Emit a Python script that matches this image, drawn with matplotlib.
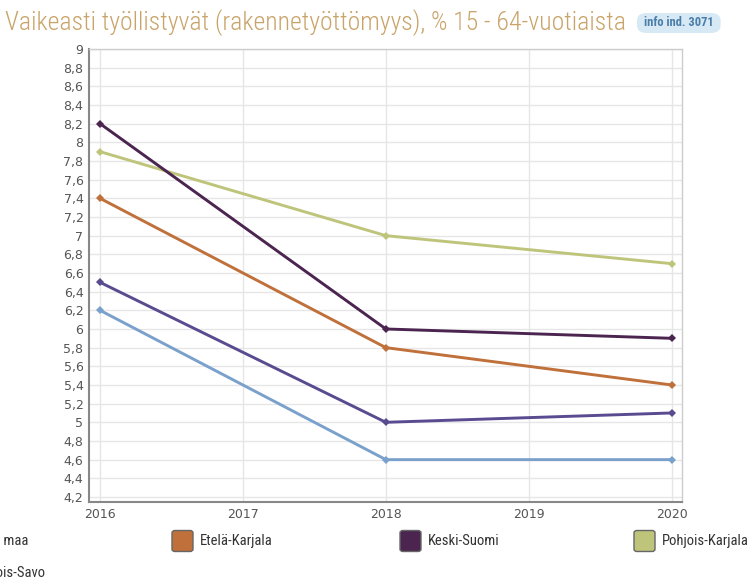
import matplotlib
matplotlib.use("Agg")
import matplotlib.pyplot as plt
from matplotlib.patches import FancyBboxPatch
from matplotlib import font_manager

years = [2016, 2018, 2020]
series_names = ["Koko maa", "Etelä-Karjala", "Keski-Suomi", "Pohjois-Karjala", "Pohjois-Savo"]
koko_maa = [6.2, 4.6, 4.6]
etela_karjala = [7.4, 5.8, 5.4]
keski_suomi = [8.2, 6.0, 5.9]
pohjois_karjala = [7.9, 7.0, 6.7]
pohjois_savo = [6.5, 5.0, 5.1]
colors = ["#7aa0cc", "#c0703a", "#4b2550", "#bec57b", "#5a4a90"]
x_ticks = [2016, 2017, 2018, 2019, 2020]
y_ticks = [4.2 + 0.2 * i for i in range(25)]
title = "Vaikeasti työllistyvät (rakennetyöttömyys), % 15 - 64-vuotiaista"
badge = "info ind. 3071"

values = [koko_maa, etela_karjala, keski_suomi, pohjois_karjala, pohjois_savo]

avail = {f.name for f in font_manager.fontManager.ttflist}
narrow = "Lato"
for cand in ["Liberation Sans Narrow", "Roboto Condensed", "Open Sans Condensed",
             "Noto Sans Condensed", "DejaVu Sans Condensed", "Lato"]:
    if cand in avail:
        narrow = cand
        break

W, H = 755, 580
fig = plt.figure(figsize=(W / 100, H / 100), dpi=100)
ax = fig.add_axes([89 / W, 1 - 502 / H, (682 - 89) / W, (502 - 49) / H])

order = [0, 4, 1, 3, 2]
for i in order:
    ax.plot(years, values[i], color=colors[i], lw=2.1, marker="D", ms=4,
            markeredgewidth=0, solid_joinstyle="round", zorder=3)

ax.set_xlim(2015.923, 2020.072)
ax.set_ylim(4.146, 9.0)
ax.set_xticks(x_ticks)
ax.set_xticklabels([str(t) for t in x_ticks])
ax.set_yticks(y_ticks)
ax.set_yticklabels([("%.1f" % v).rstrip("0").rstrip(".").replace(".", ",") for v in y_ticks])
ax.grid(True, color="#e6e6e6", lw=1)
ax.set_axisbelow(True)
ax.tick_params(length=0, labelsize=9, colors="#555555", pad=4)
for s in ["left", "bottom"]:
    ax.spines[s].set_color("#888888")
    ax.spines[s].set_linewidth(1.5)
for s in ["top", "right"]:
    ax.spines[s].set_color("#cccccc")
    ax.spines[s].set_linewidth(1)

# title
t = fig.text(5 / W, 1 - 23 / H, title, fontsize=15, color="#c9a46a", fontweight="light",
             family=[narrow, "DejaVu Sans"], va="center", ha="left")
fig.canvas.draw()
r = fig.canvas.get_renderer()
bb = t.get_window_extent(r)
t.set_fontsize(15 * 623 / bb.width)

# badge
bx = 637
b = fig.text((bx + 7) / W, 1 - 23 / H, badge, fontsize=9, color="#4a7ea8", fontweight="bold",
             family=[narrow, "DejaVu Sans"], va="center", ha="left")
fig.canvas.draw()
bbb = b.get_window_extent(r)
bw = bbb.width + 14
fig.patches.append(FancyBboxPatch((bx / W, 1 - 33 / H), bw / W, 20 / H,
                                  boxstyle="round,pad=0,rounding_size=0.013",
                                  transform=fig.transFigure, facecolor="#d6e9f5",
                                  edgecolor="none", zorder=0))

# legend
leg_pos = [(-57, 541), (172, 541), (400, 541), (634, 541), (-57, 573)]
for i, name in enumerate(series_names):
    x0, yc = leg_pos[i]
    sq = 21
    fig.patches.append(FancyBboxPatch((x0 / W, 1 - (yc + sq / 2) / H), sq / W, sq / H,
                                      boxstyle="round,pad=0,rounding_size=0.004",
                                      transform=fig.transFigure, facecolor=colors[i],
                                      edgecolor="#666666", lw=1))
    fig.text((x0 + sq + 7) / W, 1 - yc / H, name, fontsize=10.5, color="#333333",
             family=[narrow, "DejaVu Sans"], va="center", ha="left")

fig.savefig("out.png", dpi=100)
